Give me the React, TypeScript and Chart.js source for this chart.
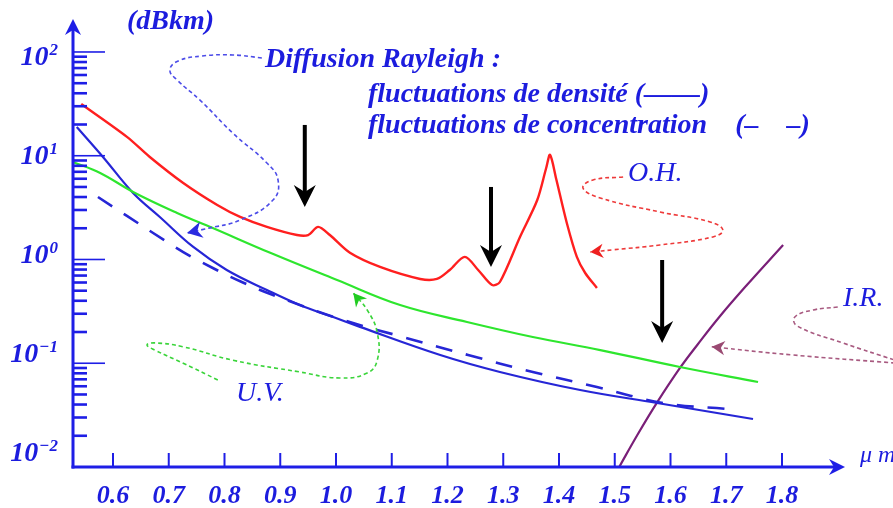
import React, { useEffect, useRef } from 'react';
import { Chart, registerables } from 'chart.js';

Chart.register(...registerables);

// ---- data (wavelength in µm, attenuation in dB/km) ----
const ohLambda = [0.543, 0.625, 0.666, 0.726, 0.787, 0.828, 0.876, 0.930, 0.950, 0.968, 0.989, 1.025, 1.079, 1.151, 1.181, 1.204, 1.231, 1.255, 1.280, 1.294, 1.330, 1.361, 1.377, 1.384, 1.395, 1.414, 1.432, 1.447, 1.468];
const ohLoss = [31.5, 15.2, 9.73, 5.46, 3.35, 2.57, 2.06, 1.72, 1.72, 2.06, 1.72, 1.16, 0.847, 0.649, 0.649, 0.792, 1.06, 0.792, 0.567, 0.607, 1.65, 3.74, 7.62, 10.2, 5.97, 2.25, 1.06, 0.741, 0.531];

const densityLambda = [0.535, 0.582, 0.636, 0.684, 0.744, 0.804, 0.876, 0.935, 0.995, 1.043, 1.187, 1.294, 1.438, 1.576, 1.748];
const densityLoss = [18.9, 9.73, 4.38, 2.57, 1.32, 0.792, 0.508, 0.364, 0.279, 0.224, 0.120, 0.0824, 0.0552, 0.0414, 0.0290];

const concLambda = [0.573, 0.625, 0.672, 0.726, 0.779, 0.831, 0.887, 1.007, 1.120, 1.237, 1.353, 1.468, 1.587, 1.703];
const concLoss = [4.00, 2.63, 1.80, 1.18, 0.828, 0.607, 0.455, 0.267, 0.179, 0.120, 0.0824, 0.0590, 0.0414, 0.0362];

const uvLambda = [0.528, 0.577, 0.636, 0.715, 0.779, 0.882, 1.002, 1.115, 1.235, 1.353, 1.474, 1.617, 1.757];
const uvLoss = [8.71, 6.82, 4.48, 2.81, 2.01, 1.16, 0.634, 0.364, 0.250, 0.179, 0.134, 0.0920, 0.0659];

const irLambda = [1.508, 1.540, 1.576, 1.617, 1.648, 1.689, 1.737, 1.802];
const irLoss = [0.01, 0.0201, 0.0419, 0.0900, 0.150, 0.285, 0.567, 1.38];

// black window arrows
const windowLambda = [0.944, 1.278, 1.585];
const windowArrowTop = [19.8, 5.0, 0.989];
const windowArrowTip = [3.21, 0.847, 0.157];

// dotted pointer paths (annotation leaders)
const rayleighNoteLambda = [0.867, 0.815, 0.760, 0.717, 0.702, 0.715, 0.756, 0.815, 0.876, 0.896, 0.887, 0.828, 0.765, 0.733];
const rayleighNoteLoss = [87.6, 93.6, 91.5, 81.9, 67.1, 53.7, 34.4, 16.5, 8.51, 5.84, 3.74, 2.40, 1.97, 1.80];
const ohNoteLambda = [1.515, 1.461, 1.443, 1.474, 1.581, 1.671, 1.694, 1.676, 1.581, 1.497, 1.456];
const ohNoteLoss = [6.24, 5.84, 4.89, 3.92, 2.87, 2.30, 1.92, 1.65, 1.38, 1.24, 1.18];
const uvNoteLambda = [0.788, 0.726, 0.675, 0.661, 0.675, 0.726, 0.815, 0.935, 1.007, 1.056, 1.074, 1.074, 1.056, 1.031];
const uvNoteLoss = [0.0690, 0.100, 0.134, 0.150, 0.157, 0.144, 0.107, 0.0824, 0.0721, 0.0805, 0.107, 0.196, 0.326, 0.475];
const irNoteLoopLambda = [1.900, 1.856, 1.823, 1.827, 1.909, 2.003];
const irNoteLoopLoss = [0.348, 0.326, 0.279, 0.229, 0.157, 0.107];
const irNoteArrowLambda = [2.003, 1.820, 1.674];
const irNoteArrowLoss = [0.1005, 0.120, 0.144];

// axes
const xTickValues = [0.6, 0.7, 0.8, 0.9, 1.0, 1.1, 1.2, 1.3, 1.4, 1.5, 1.6, 1.7, 1.8];
const yDecades = [0.01, 0.1, 1, 10, 100];
const yDecadeExponents = ['-2', '-1', '0', '1', '2'];
const yMinorMultipliers = [2, 3, 4, 5, 6, 7, 8, 9];

const X_MIN = 0.52825;
const X_MAX = 1.913;
const Y_MIN = 0.01;
const Y_MAX = 194.5;
const YL_MIN = 0.007056;
const YL_MAX = 220.5;

const AXIS_BLUE = '#1e1ee6';
const TEXT_BLUE = '#1c1cde';
const RED = '#ff1f1f';
const GREEN = '#2ee62e';
const BLUE = '#2626d6';
const PURPLE = '#7a1f78';

const SERIF = '"Liberation Serif", "Times New Roman", serif';

const pts = (xs: number[], ys: number[]) => xs.map((x, i) => ({ x, y: ys[i] }));

function arrowHead(ctx: CanvasRenderingContext2D, tipX: number, tipY: number, angle: number, len: number, halfW: number, notch: number, color: string) {
  ctx.save();
  ctx.translate(tipX, tipY);
  ctx.rotate(angle);
  ctx.beginPath();
  ctx.moveTo(0, 0);
  ctx.lineTo(-len, -halfW);
  ctx.lineTo(-len + notch, 0);
  ctx.lineTo(-len, halfW);
  ctx.closePath();
  ctx.fillStyle = color;
  ctx.fill();
  ctx.restore();
}

const decorPlugin = {
  id: 'decor',
  afterDatasetsDraw(chart: any) {
    const ctx: CanvasRenderingContext2D = chart.ctx;
    chart.data.datasets.forEach((ds: any, i: number) => {
      if (!ds.noteArrow) return;
      const meta = chart.getDatasetMeta(i);
      const n = meta.data.length;
      const last = meta.data[n - 1];
      const prev = meta.data[n - 2];
      const fromX = last.cp1x !== undefined ? last.cp1x : prev.x;
      const fromY = last.cp1y !== undefined ? last.cp1y : prev.y;
      let ang = Math.atan2(last.y - fromY, last.x - fromX);
      if (!isFinite(ang)) ang = Math.atan2(last.y - prev.y, last.x - prev.x);
      arrowHead(ctx, last.x, last.y, ang, ds.noteArrow, ds.noteArrow * 0.55, ds.noteArrow * 0.3, ds.noteArrowColor);
    });
  },
  afterDraw(chart: any) {
    const ctx: CanvasRenderingContext2D = chart.ctx;
    const { left, right, top, bottom } = chart.chartArea;
    const xs = chart.scales.x;
    const ys = chart.scales.y;
    const yl = chart.scales.yLabels;
    ctx.save();

    // axes
    ctx.strokeStyle = AXIS_BLUE;
    ctx.lineWidth = 3;
    ctx.beginPath();
    ctx.moveTo(left, bottom + 1.5);
    ctx.lineTo(left, top + 4);
    ctx.stroke();
    arrowHead(ctx, left, top - 3, -Math.PI / 2, 16, 8, 5, AXIS_BLUE);
    ctx.beginPath();
    ctx.moveTo(left - 1.5, bottom);
    ctx.lineTo(right - 8, bottom);
    ctx.stroke();
    arrowHead(ctx, right, bottom, 0, 16, 8, 5, AXIS_BLUE);

    // y ticks (inside)
    yDecades.forEach((d, k) => {
      if (k > 0) {
        const py = ys.getPixelForValue(d);
        ctx.lineWidth = 1.6;
        ctx.beginPath();
        ctx.moveTo(left, py);
        ctx.lineTo(left + 32, py);
        ctx.stroke();
      }
      if (d < 100) {
        yMinorMultipliers.forEach((m) => {
          const py = ys.getPixelForValue(d * m);
          ctx.lineWidth = 2.6;
          ctx.beginPath();
          ctx.moveTo(left, py);
          ctx.lineTo(left + 14, py);
          ctx.stroke();
        });
      }
    });

    // y decade labels: "10" with raised exponent
    ctx.fillStyle = TEXT_BLUE;
    ctx.textBaseline = 'alphabetic';
    yDecades.forEach((d, k) => {
      const py = yl.getPixelForValue(d);
      const exp = yDecadeExponents[k].replace('-', '\u2212');
      ctx.font = `italic bold 17px ${SERIF}`;
      const ew = ctx.measureText(exp).width;
      ctx.textAlign = 'right';
      const rightEdge = 58;
      ctx.fillText(exp, rightEdge, py - 1);
      ctx.font = `italic bold 28px ${SERIF}`;
      ctx.fillText('10', rightEdge - ew - 1, py + 9);
    });

    // x ticks (inside, upward)
    ctx.strokeStyle = AXIS_BLUE;
    ctx.lineWidth = 2;
    xTickValues.forEach((v) => {
      const px = xs.getPixelForValue(v);
      ctx.beginPath();
      ctx.moveTo(px, bottom);
      ctx.lineTo(px, bottom - 14);
      ctx.stroke();
    });

    // black window arrows
    windowLambda.forEach((l, i) => {
      const px = xs.getPixelForValue(l);
      const pTop = ys.getPixelForValue(windowArrowTop[i]);
      const pTip = ys.getPixelForValue(windowArrowTip[i]);
      ctx.strokeStyle = '#000';
      ctx.lineWidth = 4;
      ctx.beginPath();
      ctx.moveTo(px, pTop);
      ctx.lineTo(px, pTip - 12);
      ctx.stroke();
      arrowHead(ctx, px, pTip, Math.PI / 2, 22, 11, 7, '#000');
    });

    // texts
    ctx.fillStyle = TEXT_BLUE;
    ctx.textBaseline = 'middle';
    ctx.textAlign = 'left';
    ctx.font = `italic bold 28px ${SERIF}`;
    ctx.fillText('(dBkm)', 127, 22);
    ctx.fillText('Diffusion Rayleigh :', 265, 60);
    ctx.fillText('fluctuations de densit\u00E9 (\u2014\u2014)', 368, 95);
    ctx.fillText('fluctuations de concentration    (\u2013    \u2013)', 368, 126);
    ctx.font = `italic 28px ${SERIF}`;
    ctx.fillText('O.H.', 628, 174);
    ctx.fillText('I.R.', 843, 299);
    ctx.fillText('U.V.', 236, 394);
    ctx.font = `italic 24px ${SERIF}`;
    ctx.fillText('\u03BC m', 860, 456);
    ctx.restore();
  },
};

const tickFont = { family: SERIF, size: 26, style: 'italic' as const, weight: 'bold' as const };

export default function App() {
  const canvasRef = useRef<HTMLCanvasElement | null>(null);

  useEffect(() => {
    const canvas = canvasRef.current;
    if (!canvas) return;
    const lineBase = { pointRadius: 0, fill: false, tension: 0.4, xAxisID: 'x', yAxisID: 'y' };
    const noteBase = { pointRadius: 0, fill: false, tension: 0.45, borderWidth: 1.6, borderDash: [4, 3], xAxisID: 'x', yAxisID: 'y', clip: false as any };
    const chart = new Chart(canvas, {
      type: 'line',
      data: {
        datasets: [
          { ...noteBase, label: 'Rayleigh note', data: pts(rayleighNoteLambda, rayleighNoteLoss), borderColor: '#4c4ce8', noteArrow: 15, noteArrowColor: '#2a2ae0' } as any,
          { ...noteBase, label: 'OH note', data: pts(ohNoteLambda, ohNoteLoss), borderColor: '#ee3a3a', noteArrow: 13, noteArrowColor: '#ee2020' } as any,
          { ...noteBase, label: 'UV note', data: pts(uvNoteLambda, uvNoteLoss), borderColor: '#3ad43a', noteArrow: 13, noteArrowColor: '#22cc22' } as any,
          { ...noteBase, label: 'IR note loop', data: pts(irNoteLoopLambda, irNoteLoopLoss), borderColor: '#a85a80' } as any,
          { ...noteBase, label: 'IR note arrow', data: pts(irNoteArrowLambda, irNoteArrowLoss), borderColor: '#a85a80', noteArrow: 13, noteArrowColor: '#9a4a72' } as any,
          { ...lineBase, label: 'U.V.', data: pts(uvLambda, uvLoss), borderColor: GREEN, borderWidth: 2.2 },
          { ...lineBase, label: 'Rayleigh concentration', data: pts(concLambda, concLoss), borderColor: BLUE, borderWidth: 2.6, borderDash: [17, 14] },
          { ...lineBase, label: 'Rayleigh densité', data: pts(densityLambda, densityLoss), borderColor: BLUE, borderWidth: 2.2 },
          { ...lineBase, label: 'I.R.', data: pts(irLambda, irLoss), borderColor: PURPLE, borderWidth: 2.2 },
          { ...lineBase, tension: 0.3, label: 'O.H.', data: pts(ohLambda, ohLoss), borderColor: RED, borderWidth: 2.4 },
        ],
      },
      options: {
        animation: false,
        responsive: false,
        devicePixelRatio: 1,
        events: [],
        layout: { padding: { top: 22, right: 48, left: 73, bottom: 0 } },
        plugins: { legend: { display: false }, tooltip: { enabled: false }, title: { display: false } },
        scales: {
          x: {
            type: 'linear',
            position: 'bottom',
            min: X_MIN,
            max: X_MAX,
            afterFit: (s: any) => { s.height = 41; },
            afterBuildTicks: (s: any) => { s.ticks = xTickValues.map((v) => ({ value: v })); },
            grid: { display: false, drawTicks: false },
            border: { display: false },
            ticks: {
              autoSkip: false,
              maxRotation: 0,
              padding: 14,
              color: TEXT_BLUE,
              font: tickFont,
              callback: (v: any) => Number(v).toFixed(1),
            },
          },
          y: {
            type: 'logarithmic',
            position: 'left',
            min: Y_MIN,
            max: Y_MAX,
            display: false,
          },
          yLabels: {
            type: 'logarithmic',
            position: 'left',
            min: YL_MIN,
            max: YL_MAX,
            display: false,
          },
        } as any,
      },
      plugins: [decorPlugin],
    });
    return () => chart.destroy();
  }, []);

  return (
    <div style={{ position: 'absolute', left: 0, top: 0, width: 893, height: 508, background: '#fff', overflow: 'hidden' }}>
      <canvas ref={canvasRef} width={893} height={508} style={{ display: 'block', width: 893, height: 508 }} />
    </div>
  );
}
